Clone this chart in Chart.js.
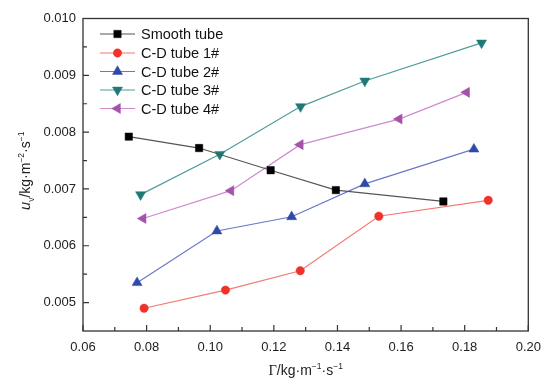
<!DOCTYPE html>
<html><head><meta charset="utf-8">
<script src="https://cdn.jsdelivr.net/npm/chart.js@4/dist/chart.umd.min.js"></script>
<style>html,body{margin:0;padding:0;background:#fff}#wrap{width:542px;height:379px}</style>
</head><body><div id="wrap"><canvas id="c" width="542" height="379"></canvas></div>
<script>
const seriesNames = ['Smooth tube', 'C-D tube 1#', 'C-D tube 2#', 'C-D tube 3#', 'C-D tube 4#'];
const smoothX = [0.0744, 0.0965, 0.1190, 0.1395, 0.1733];
const smoothY = [0.00792, 0.00772, 0.00733, 0.00698, 0.00678];
const tube1X = [0.0792, 0.1048, 0.1283, 0.1530, 0.1874];
const tube1Y = [0.00490, 0.00522, 0.00556, 0.00652, 0.00680];
const tube2X = [0.0770, 0.1021, 0.1256, 0.1486, 0.1829];
const tube2Y = [0.00535, 0.00626, 0.00651, 0.00709, 0.00770];
const tube3X = [0.0781, 0.1030, 0.1284, 0.1486, 0.1853];
const tube3Y = [0.00690, 0.00761, 0.00845, 0.00890, 0.00957];
const tube4X = [0.0789, 0.1065, 0.1283, 0.1594, 0.1806];
const tube4Y = [0.00648, 0.00697, 0.00778, 0.00823, 0.00870];
const xTicks = [0.06, 0.08, 0.10, 0.12, 0.14, 0.16, 0.18, 0.20];
const yTicks = [0.005, 0.006, 0.007, 0.008, 0.009, 0.010];
const xMinorTicks = [0.07, 0.09, 0.11, 0.13, 0.15, 0.17, 0.19];
const yMinorTicks = [0.0055, 0.0065, 0.0075, 0.0085, 0.0095];

const styles = [
  {line:'#555555', fill:'#000000', shape:'rect', rot:0, r:5.2},
  {line:'#f27a72', fill:'#f0322a', shape:'circle', rot:0, r:4.2},
  {line:'#6a78c8', fill:'#2f4aa8', shape:'triangle', rot:0, r:5.8},
  {line:'#4f9d9b', fill:'#1d7a78', shape:'triangle', rot:180, r:5.8},
  {line:'#cf8ad0', fill:'#a452aa', shape:'triangle', rot:-90, r:5.8}
];
const xs = [smoothX, tube1X, tube2X, tube3X, tube4X];
const ys = [smoothY, tube1Y, tube2Y, tube3Y, tube4Y];

const datasets = seriesNames.map((n, i) => ({
  label: n,
  data: xs[i].map((x, k) => ({x: x, y: ys[i][k]})),
  borderColor: styles[i].line,
  borderWidth: 1.2,
  backgroundColor: styles[i].fill,
  pointBackgroundColor: styles[i].fill,
  pointBorderColor: styles[i].fill,
  pointBorderWidth: 0.5,
  pointStyle: styles[i].shape,
  pointRotation: styles[i].rot,
  pointRadius: styles[i].r,
  pointHoverRadius: styles[i].r,
  showLine: true,
  tension: 0
}));

function drawMarker(ctx, st, x, y) {
  ctx.save();
  ctx.fillStyle = st.fill; ctx.strokeStyle = st.fill; ctx.lineWidth = 0.5;
  ctx.beginPath();
  const r = st.r;
  if (st.shape === 'rect') {
    const s = Math.SQRT1_2 * r; ctx.rect(x - s, y - s, 2*s, 2*s);
  } else if (st.shape === 'circle') {
    ctx.arc(x, y, r, 0, Math.PI*2);
  } else {
    let rad = st.rot * Math.PI / 180;
    ctx.moveTo(x + Math.sin(rad)*r, y - Math.cos(rad)*r);
    rad += 2*Math.PI/3;
    ctx.lineTo(x + Math.sin(rad)*r, y - Math.cos(rad)*r);
    rad += 2*Math.PI/3;
    ctx.lineTo(x + Math.sin(rad)*r, y - Math.cos(rad)*r);
    ctx.closePath();
  }
  ctx.fill(); ctx.stroke();
  ctx.restore();
}

function drawRich(ctx, parts, x, y, align) {
  let total = 0;
  parts.forEach(p => { ctx.font = p[1]; total += ctx.measureText(p[0]).width; });
  let cx = align === 'center' ? x - total/2 : x;
  parts.forEach(p => {
    ctx.font = p[1];
    ctx.fillText(p[0], cx, y + p[2]);
    cx += ctx.measureText(p[0]).width;
  });
}

const framePlugin = {
  id: 'frame',
  afterDraw(chart) {
    const ctx = chart.ctx, a = chart.chartArea;
    const xs_ = chart.scales.x, ys_ = chart.scales.y;
    ctx.save();
    ctx.strokeStyle = '#333333';
    ctx.lineWidth = 1.3;
    ctx.strokeRect(a.left, a.top, a.right - a.left, a.bottom - a.top);
    ctx.lineWidth = 1.2;
    ctx.beginPath();
    xTicks.forEach(v => { const p = xs_.getPixelForValue(v); ctx.moveTo(p, a.bottom); ctx.lineTo(p, a.bottom - 6); });
    xMinorTicks.forEach(v => { const p = xs_.getPixelForValue(v); ctx.moveTo(p, a.bottom); ctx.lineTo(p, a.bottom - 4); });
    yTicks.forEach(v => { const p = ys_.getPixelForValue(v); ctx.moveTo(a.left, p); ctx.lineTo(a.left + 6, p); });
    yMinorTicks.forEach(v => { const p = ys_.getPixelForValue(v); ctx.moveTo(a.left, p); ctx.lineTo(a.left + 4, p); });
    ctx.stroke();

    const lx0 = 100, lx1 = 135, tx = 141;
    const rows = [34, 53, 71.5, 90, 108.5];
    ctx.font = '14.5px "Liberation Sans", Arial, sans-serif';
    ctx.textBaseline = 'middle';
    ctx.textAlign = 'left';
    seriesNames.forEach((n, i) => {
      const y = rows[i];
      ctx.strokeStyle = styles[i].line; ctx.lineWidth = 1.2;
      ctx.beginPath(); ctx.moveTo(lx0, y); ctx.lineTo(lx1, y); ctx.stroke();
      drawMarker(ctx, styles[i], (lx0 + lx1)/2, y);
      ctx.fillStyle = '#111111';
      ctx.fillText(n, tx, y + 1);
    });

    ctx.fillStyle = '#222222';
    ctx.textBaseline = 'alphabetic';
    const F = '"Liberation Sans", Arial, sans-serif';
    const big = '14px ' + F, small = '8.5px ' + F;
    drawRich(ctx, [
      ['\u0393', '14.5px "Liberation Serif", "Times New Roman", serif', 0],
      ['/kg\u00b7m', big, 0], ['\u22121', small, -6], ['\u00b7s', big, 0], ['\u22121', small, -6]
    ], (a.left + a.right)/2, 375, 'center');

    ctx.save();
    ctx.translate(30, (a.top + a.bottom)/2 - 4);
    ctx.rotate(-Math.PI/2);
    drawRich(ctx, [
      ['u', 'italic 14.5px ' + F, 0], ['v', small, 4], ['/kg\u00b7m', big, 0], ['\u22122', small, -6],
      ['\u00b7s', big, 0], ['\u22121', small, -6]
    ], 0, 0, 'center');
    ctx.restore();
    ctx.restore();
  }
};

new Chart(document.getElementById('c'), {
  type: 'scatter',
  data: { datasets },
  options: {
    responsive: false,
    animation: false,
    devicePixelRatio: 1,
    layout: { padding: { top: 18.5, right: 13.7, left: 0, bottom: 0 } },
    plugins: { legend: { display: false }, tooltip: { enabled: false } },
    scales: {
      x: {
        type: 'linear', min: 0.06, max: 0.20,
        afterBuildTicks: s => { s.ticks = xTicks.map(v => ({value: v})); },
        afterFit: s => { s.height = 48; s.paddingLeft = 0; s.paddingRight = 0; },
        grid: { display: false, drawTicks: false },
        border: { display: false },
        ticks: { padding: 9, color: '#222', font: { size: 13, family: '"Liberation Sans", Arial, sans-serif' },
                 maxRotation: 0, callback: v => Number(v).toFixed(2) }
      },
      y: {
        type: 'linear', min: 0.0045, max: 0.010,
        afterBuildTicks: s => { s.ticks = yTicks.map(v => ({value: v})); },
        afterFit: s => { s.width = 83; s.paddingTop = 0; s.paddingBottom = 0; },
        grid: { display: false, drawTicks: false },
        border: { display: false },
        ticks: { padding: 7, color: '#222', font: { size: 13, family: '"Liberation Sans", Arial, sans-serif' },
                 callback: v => Number(v).toFixed(3) }
      }
    }
  },
  plugins: [framePlugin]
});
</script>
</body></html>
